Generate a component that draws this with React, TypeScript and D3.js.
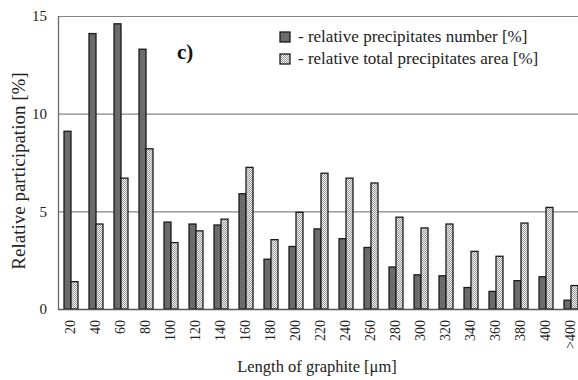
import * as d3 from "d3"
import { useEffect, useRef } from "react"

const CATEGORIES = [
  "20", "40", "60", "80", "100", "120", "140", "160", "180", "200", "220",
  "240", "260", "280", "300", "320", "340", "360", "380", "400", ">400",
]
const NUMBER = [
  9.1, 14.1, 14.6, 13.3, 4.45, 4.35, 4.3, 5.9, 2.55, 3.2, 4.1,
  3.6, 3.15, 2.15, 1.75, 1.7, 1.1, 0.9, 1.45, 1.65, 0.45,
]
const AREA = [
  1.4, 4.35, 6.7, 8.2, 3.4, 4.0, 4.6, 7.25, 3.55, 4.95, 6.95,
  6.7, 6.45, 4.7, 4.15, 4.35, 2.95, 2.7, 4.4, 5.2, 1.2,
]
const Y_TICKS = [0, 5, 10, 15]
const SERIES = ["number", "area"]
const LEGEND = [
  "- relative precipitates number [%]",
  "- relative total precipitates area [%]",
]

const W = 578
const H = 380
const FONT = "Liberation Serif"

export default function App() {
  const ref = useRef<SVGSVGElement | null>(null)

  useEffect(() => {
    if (!ref.current) return
    const svg = d3.select(ref.current)
    svg.selectAll("*").remove()

    const left = 58
    const top = 16
    const bottom = 309

    const defs = svg.append("defs")
    const pat = defs
      .append("pattern")
      .attr("id", "chk")
      .attr("width", 2)
      .attr("height", 2)
      .attr("patternUnits", "userSpaceOnUse")
    pat.append("rect").attr("width", 2).attr("height", 2).attr("fill", "#f2f2f2")
    pat.append("rect").attr("width", 1).attr("height", 1).attr("fill", "#9a9a9a")
    pat.append("rect").attr("x", 1).attr("y", 1).attr("width", 1).attr("height", 1).attr("fill", "#9a9a9a")

    svg.append("rect").attr("width", W).attr("height", H).attr("fill", "#fff")

    const x = d3.scaleBand<string>().domain(CATEGORIES).range([left, 583])
    const x1 = d3
      .scaleBand<string>()
      .domain(SERIES)
      .range([0, x.bandwidth()])
      .paddingInner(0)
      .paddingOuter(0.79)
    const y = d3.scaleLinear().domain([0, 15]).range([bottom, top])

    // grid lines
    svg
      .append("g")
      .selectAll("line")
      .data(Y_TICKS.filter((t) => t > 0))
      .join("line")
      .attr("x1", left)
      .attr("x2", W)
      .attr("y1", (d) => y(d) + 0.5)
      .attr("y2", (d) => y(d) + 0.5)
      .attr("stroke", "#858585")
      .attr("stroke-width", 1.2)

    // bars
    const g = svg
      .append("g")
      .selectAll("g")
      .data(CATEGORIES)
      .join("g")
      .attr("transform", (c) => `translate(${x(c)},0)`)

    g.append("rect")
      .attr("x", x1("number")! + 0.5)
      .attr("y", (_, i) => y(NUMBER[i]))
      .attr("width", x1.bandwidth())
      .attr("height", (_, i) => y(0) - y(NUMBER[i]))
      .attr("fill", "#6b6b6b")
      .attr("stroke", "#1a1a1a")
      .attr("stroke-width", 1.3)

    g.append("rect")
      .attr("x", x1("area")! + 0.5)
      .attr("y", (_, i) => y(AREA[i]))
      .attr("width", x1.bandwidth())
      .attr("height", (_, i) => y(0) - y(AREA[i]))
      .attr("fill", "url(#chk)")
      .attr("stroke", "#1a1a1a")
      .attr("stroke-width", 1.3)

    // axes
    svg
      .append("line")
      .attr("x1", left)
      .attr("x2", W)
      .attr("y1", bottom + 0.5)
      .attr("y2", bottom + 0.5)
      .attr("stroke", "#555")
      .attr("stroke-width", 1.3)
    svg
      .append("line")
      .attr("x1", left + 0.5)
      .attr("x2", left + 0.5)
      .attr("y1", top)
      .attr("y2", bottom + 1)
      .attr("stroke", "#6a6a6a")
      .attr("stroke-width", 1.3)

    svg
      .append("g")
      .selectAll("text")
      .data(Y_TICKS)
      .join("text")
      .attr("x", 47)
      .attr("y", (d) => y(d))
      .attr("dy", "0.35em")
      .attr("text-anchor", "end")
      .style("font-family", FONT)
      .attr("font-size", 15)
      .attr("fill", "#222")
      .text((d) => d)

    svg
      .append("g")
      .selectAll("text")
      .data(CATEGORIES)
      .join("text")
      .attr("transform", (c) => `translate(${x(c)! + x.bandwidth() / 2},${bottom + 11}) rotate(-90)`)
      .attr("dy", "0.35em")
      .attr("text-anchor", "end")
      .style("font-family", FONT)
      .attr("font-size", 14)
      .attr("fill", "#222")
      .text((c) => c)

    svg
      .append("text")
      .attr("transform", `translate(25,171) rotate(-90)`)
      .attr("text-anchor", "middle")
      .style("font-family", FONT)
      .attr("font-size", 19)
      .attr("fill", "#222")
      .text("Relative participation [%]")

    svg
      .append("text")
      .attr("x", 317)
      .attr("y", 372)
      .attr("text-anchor", "middle")
      .style("font-family", FONT)
      .attr("font-size", 16.5)
      .attr("fill", "#222")
      .text("Length of graphite [μm]")

    svg
      .append("text")
      .attr("x", 177)
      .attr("y", 59)
      .style("font-family", FONT)
      .attr("font-size", 21)
      .attr("font-weight", "bold")
      .attr("fill", "#111")
      .text("c)")

    // legend
    const lg = svg
      .append("g")
      .selectAll("g")
      .data(LEGEND)
      .join("g")
      .attr("transform", (_, i) => `translate(280,${32 + i * 22})`)
    lg.append("rect")
      .attr("width", 10)
      .attr("height", 10)
      .attr("fill", (_, i) => (i === 0 ? "#6b6b6b" : "url(#chk)"))
      .attr("stroke", "#1a1a1a")
      .attr("stroke-width", 1.3)
    lg.append("text")
      .attr("x", 18)
      .attr("y", 10)
      .style("font-family", FONT)
      .attr("font-size", 17)
      .attr("fill", "#222")
      .text((d) => d)
  }, [])

  return (
    <svg
      ref={ref}
      width={W}
      height={H}
      fontFamily={FONT}
      style={{ position: "absolute", left: 0, top: 0 }}
    />
  )
}
